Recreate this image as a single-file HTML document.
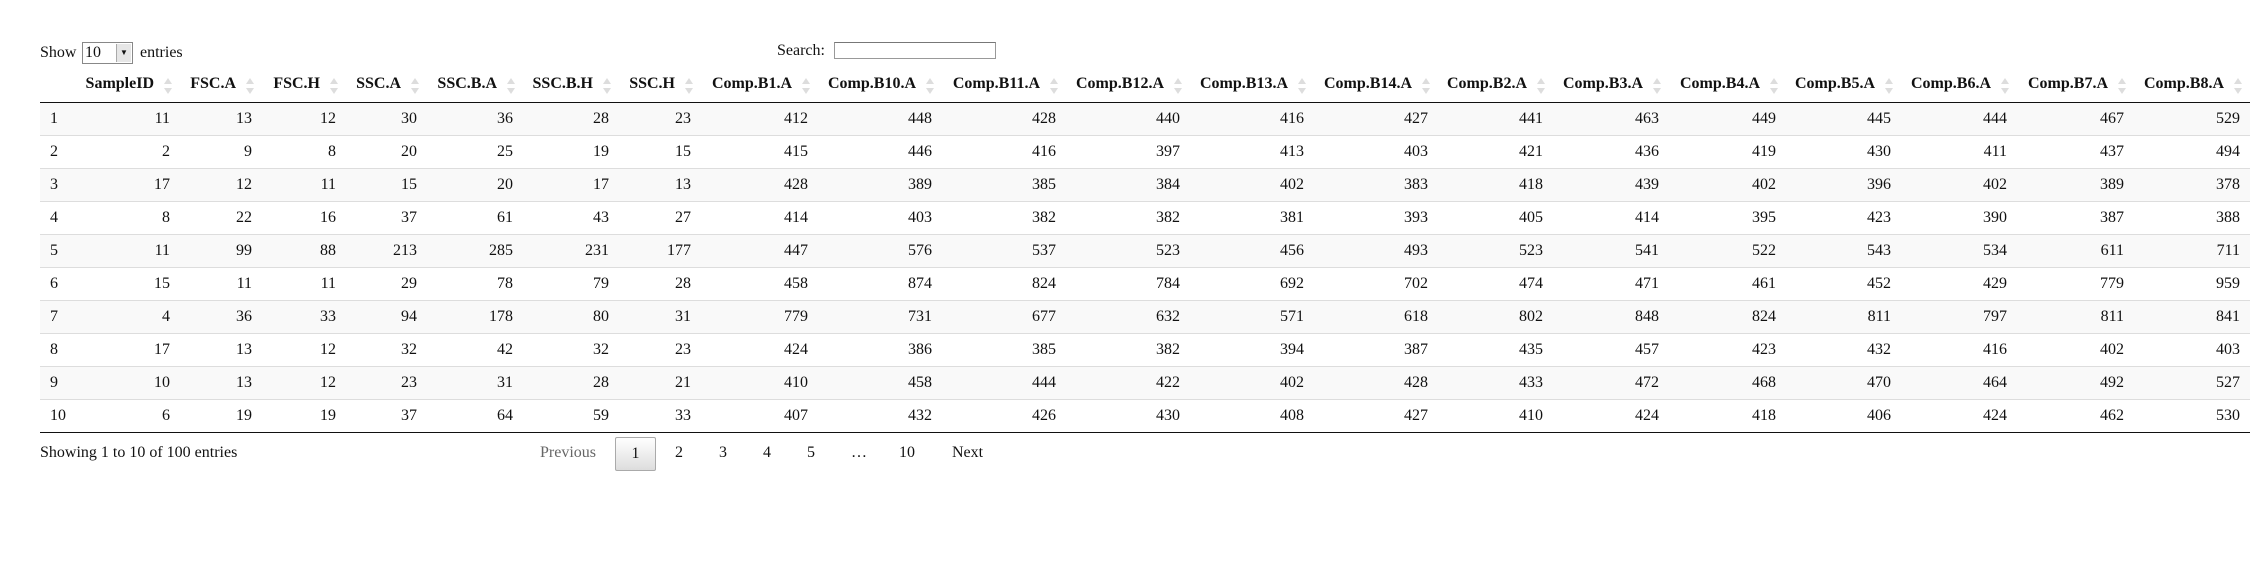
<!DOCTYPE html>
<html><head><meta charset="utf-8">
<style>
html,body{margin:0;padding:0;width:2250px;height:580px;overflow:hidden;background:#fff;font-family:"Liberation Serif",serif;font-size:16px;color:#111}
.abs{position:absolute}
table{border-collapse:collapse;table-layout:fixed;position:absolute;left:40px;top:62px;width:2210px}
th{height:40px;padding:5px 26px 0 0;text-align:right;font-weight:bold;border-bottom:1px solid #111;position:relative;white-space:nowrap;vertical-align:middle;box-sizing:border-box}
th.idx{padding:0}
td{height:33px;padding:0 10px;text-align:right;border-top:1px solid #ddd;box-sizing:border-box;white-space:nowrap}
tr:first-child td{border-top:none}
tbody tr:nth-child(odd) td{background:#f9f9f9}
tbody tr:last-child td{border-bottom:1px solid #111}
td.idx{text-align:left}
.sort{position:absolute;right:8px;top:15px;width:8px;height:18px}
.btn{border:1px solid #aaa;border-radius:2px;background:linear-gradient(#fff,#ddd);}
</style></head><body>
<div class="abs" style="left:40px;top:43px;line-height:20px">Show</div>
<div class="abs" style="left:82px;top:42px;border:1px solid #888;background:#fff;line-height:19px;padding-left:2px;box-sizing:border-box;width:51px;height:22px">10<span style="position:absolute;right:1px;top:1px;width:14px;height:18px;background:#e6e6e6;border-left:1px solid #aaa;font-size:8px;text-align:center;line-height:18px">▼</span></div>
<div class="abs" style="left:140px;top:43px;line-height:20px">entries</div>
<div class="abs" style="left:777px;top:41px;line-height:20px">Search:</div>
<div class="abs" style="left:834px;top:42px;width:162px;height:17px;border:1px solid #999;box-sizing:border-box;border-top-color:#777"></div>

<table>
<colgroup id="cg"></colgroup>
<thead><tr id="hr"></tr></thead>
<tbody id="tb"></tbody>
</table>

<div class="abs" style="left:40px;top:443px;line-height:20px">Showing 1 to 10 of 100 entries</div>
<div class="abs" style="left:540px;top:443px;line-height:20px;color:#666">Previous</div>
<div class="abs btn" style="left:615px;top:437px;width:41px;height:34px;box-sizing:border-box;text-align:center;line-height:32px">1</div>
<div class="abs" style="left:675px;top:443px;line-height:20px">2</div>
<div class="abs" style="left:719px;top:443px;line-height:20px">3</div>
<div class="abs" style="left:763px;top:443px;line-height:20px">4</div>
<div class="abs" style="left:807px;top:443px;line-height:20px">5</div>
<div class="abs" style="left:851px;top:443px;line-height:20px">…</div>
<div class="abs" style="left:899px;top:443px;line-height:20px">10</div>
<div class="abs" style="left:952px;top:443px;line-height:20px">Next</div>

<script>
const columns=["SampleID","FSC.A","FSC.H","SSC.A","SSC.B.A","SSC.B.H","SSC.H","Comp.B1.A","Comp.B10.A","Comp.B11.A","Comp.B12.A","Comp.B13.A","Comp.B14.A","Comp.B2.A","Comp.B3.A","Comp.B4.A","Comp.B5.A","Comp.B6.A","Comp.B7.A","Comp.B8.A"];
const rowIds=[1,2,3,4,5,6,7,8,9,10];
const row1=[11,13,12,30,36,28,23,412,448,428,440,416,427,441,463,449,445,444,467,529];
const row2=[2,9,8,20,25,19,15,415,446,416,397,413,403,421,436,419,430,411,437,494];
const row3=[17,12,11,15,20,17,13,428,389,385,384,402,383,418,439,402,396,402,389,378];
const row4=[8,22,16,37,61,43,27,414,403,382,382,381,393,405,414,395,423,390,387,388];
const row5=[11,99,88,213,285,231,177,447,576,537,523,456,493,523,541,522,543,534,611,711];
const row6=[15,11,11,29,78,79,28,458,874,824,784,692,702,474,471,461,452,429,779,959];
const row7=[4,36,33,94,178,80,31,779,731,677,632,571,618,802,848,824,811,797,811,841];
const row8=[17,13,12,32,42,32,23,424,386,385,382,394,387,435,457,423,432,416,402,403];
const row9=[10,13,12,23,31,28,21,410,458,444,422,402,428,433,472,468,470,464,492,527];
const row10=[6,19,19,37,64,59,33,407,432,426,430,408,427,410,424,418,406,424,462,530];
const rows=[row1,row2,row3,row4,row5,row6,row7,row8,row9,row10];
const widths=[32,108,82,84,81,96,96,82,117,124,124,124,124,124,115,116,117,115,116,117,116];
const cg=document.getElementById('cg');
widths.forEach(w=>{const c=document.createElement('col');c.style.width=w+'px';cg.appendChild(c);});
const hr=document.getElementById('hr');
const h0=document.createElement('th');h0.className='idx';


hr.appendChild(h0);
const icon='<svg class="sort" viewBox="0 0 8 18"><path d="M0 7 L4 1 L8 7Z" fill="#ddd"/><path d="M0 11 L4 17 L8 11Z" fill="#ddd"/></svg>';
columns.forEach(c=>{const th=document.createElement('th');th.innerHTML=c+icon;


hr.appendChild(th);});
const tb=document.getElementById('tb');
rows.forEach((r,i)=>{const tr=document.createElement('tr');


const td0=document.createElement('td');td0.className='idx';td0.textContent=rowIds[i];


tr.appendChild(td0);
r.forEach((v,j)=>{const td=document.createElement('td');td.textContent=v;


tr.appendChild(td);});
tb.appendChild(tr);});
</script>
</body></html>
